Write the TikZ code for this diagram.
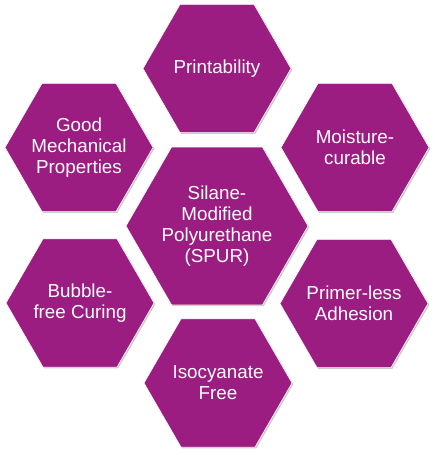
\documentclass[tikz,border=0pt]{standalone}
\usepackage{fontspec}
\setmainfont{Liberation Sans}
\usetikzlibrary{shapes.geometric,shadows}
\definecolor{plum}{HTML}{9B1D82}
\definecolor{shade}{HTML}{8A8A8A}
\tikzset{
  hexa/.style={regular polygon,regular polygon sides=6,minimum size=148pt,
               inner sep=0pt,fill=plum,draw=white,line width=0.6pt,
               drop shadow={shadow xshift=1.3pt,shadow yshift=-1.3pt,
                            opacity=0.45,fill=shade}},
  bighexa/.style={hexa,minimum size=182pt},
  hextext/.style={text=white,align=center,font=\fontsize{18.8}{21}\selectfont,
                  inner sep=0pt}
}
\begin{document}
\begin{tikzpicture}[x=1pt,y=1pt]
  \useasboundingbox[fill=white] (0,0) rectangle (434,455);

  % the seven cells
  \node[bighexa] (spur) at (217,229) {};
  \node[hexa] (print) at (217,386.5) {};
  \node[hexa] (moist) at (355,307.5) {};
  \node[hexa] (primer) at (354,151.5) {};
  \node[hexa] (iso) at (218,72) {};
  \node[hexa] (bubble) at (80,152) {};
  \node[hexa] (mech) at (79,307.5) {};

  % their texts
  \node[hextext] (spur-t) at (spur) {Silane-\\Modified\\Polyurethane\\(SPUR)};
  \node[hextext] (print-t) at (print) {Printability};
  \node[hextext] (moist-t) at (moist) {Moisture-\\curable};
  \node[hextext] (primer-t) at (primer) {Primer-less\\Adhesion};
  \node[hextext] (iso-t) at (iso) {Isocyanate\\Free};
  \node[hextext] (bubble-t) at (bubble) {Bubble-\\free Curing};
  \node[hextext] (mech-t) at (mech) {Good\\Mechanical\\Properties};
\end{tikzpicture}
\end{document}
